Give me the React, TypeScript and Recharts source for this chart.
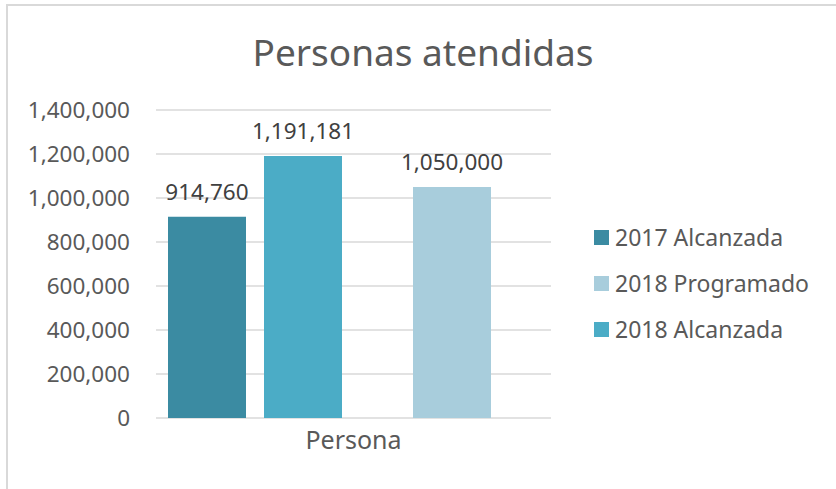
import React from "react";
import {
  Bar,
  BarChart,
  CartesianGrid,
  LabelList,
  Legend,
  XAxis,
  YAxis,
} from "recharts";

const categories = ["Persona"];
const seriesNames = ["2017 Alcanzada", "2018 Programado", "2018 Alcanzada"];
const alcanzada2017 = [914760];
const programado2018 = [1050000];
const alcanzada2018 = [1191181];
const yTicks = [0, 200000, 400000, 600000, 800000, 1000000, 1200000, 1400000];

const colors = ["#3B8BA2", "#A8CDDC", "#4BACC6"];
const textColor = "#595959";
const font = "'Noto Sans', sans-serif";

const data = categories.map((category, i) => ({
  category,
  a2017: alcanzada2017[i],
  p2018: programado2018[i],
  a2018: alcanzada2018[i],
}));

const fmt = (v: number) => Number(v).toLocaleString("en-US");

const labelStyle = { fontSize: 22.5, fill: "#404040", fontFamily: font };

function LegendBox({ payload }: any) {
  const items = [...(payload || [])].sort(
    (a: any, b: any) => seriesNames.indexOf(a.value) - seriesNames.indexOf(b.value)
  );
  return (
    <div style={{ fontFamily: font, fontSize: 23, color: textColor }}>
      {items.map((p: any) => (
        <div
          key={p.value}
          style={{ display: "flex", alignItems: "center", height: 46 }}
        >
          <span
            style={{
              width: 15,
              height: 15,
              background: p.color,
              marginRight: 6,
              display: "inline-block",
            }}
          />
          {p.value}
        </div>
      ))}
    </div>
  );
}

export default function App() {
  return (
    <div
      style={{
        position: "fixed",
        left: 0,
        top: 0,
        width: 836,
        height: 489,
        overflow: "hidden",
        background: "#fff",
      }}
    >
      <div
        style={{
          position: "absolute",
          left: 6,
          top: 4,
          width: 900,
          height: 600,
          border: "2px solid #d9d9d9",
        }}
      />
      <div
        style={{
          position: "absolute",
          left: 0,
          width: 846,
          top: 26,
          textAlign: "center",
          fontFamily: font,
          fontSize: 37,
          color: textColor,
        }}
      >
        Personas atendidas
      </div>
      <div style={{ position: "absolute", left: 0, top: 0 }}>
        <BarChart
          width={836}
          height={489}
          data={data}
          margin={{ top: 110, right: 285, bottom: 41, left: 0 }}
        >
          <CartesianGrid
            vertical={false}
            stroke="#d9d9d9"
            strokeWidth={1.5}
            xAxisId="main"
          />
          <XAxis
            xAxisId="main"
            dataKey="category"
            height={30}
            axisLine={false}
            tickLine={false}
            tickSize={0}
            tickMargin={13}
            tick={{ fontSize: 25, fill: textColor, fontFamily: font }}
          />
          <XAxis xAxisId="b1" orientation="top" dataKey="category" hide padding={{ left: 0, right: 293 }} />
          <XAxis xAxisId="b2" orientation="top" dataKey="category" hide padding={{ left: 197, right: 0 }} />
          <XAxis xAxisId="b3" orientation="top" dataKey="category" hide padding={{ left: 0, right: 101 }} />
          <YAxis
            width={156}
            domain={[0, 1400000]}
            ticks={yTicks}
            axisLine={false}
            tickLine={false}
            tickSize={0}
            tickMargin={26}
            tickFormatter={fmt}
            tick={{ fontSize: 22.5, fill: textColor, fontFamily: font }}
          />
          <Legend
            layout="vertical"
            align="center"
            verticalAlign="middle"
            content={<LegendBox />}
            wrapperStyle={{ left: 594, top: 214, width: 240 }}
          />
          <Bar
            xAxisId="b1"
            dataKey="a2017"
            name={seriesNames[0]}
            fill={colors[0]}
            barSize={78}
            isAnimationActive={false}
          >
            <LabelList dataKey="a2017" position="top" offset={17} formatter={fmt} style={labelStyle} />
          </Bar>
          <Bar
            xAxisId="b2"
            dataKey="p2018"
            name={seriesNames[1]}
            fill={colors[1]}
            barSize={78}
            isAnimationActive={false}
          >
            <LabelList dataKey="p2018" position="top" offset={17} formatter={fmt} style={labelStyle} />
          </Bar>
          <Bar
            xAxisId="b3"
            dataKey="a2018"
            name={seriesNames[2]}
            fill={colors[2]}
            barSize={78}
            isAnimationActive={false}
          >
            <LabelList dataKey="a2018" position="top" offset={17} formatter={fmt} style={labelStyle} />
          </Bar>
        </BarChart>
      </div>
    </div>
  );
}
